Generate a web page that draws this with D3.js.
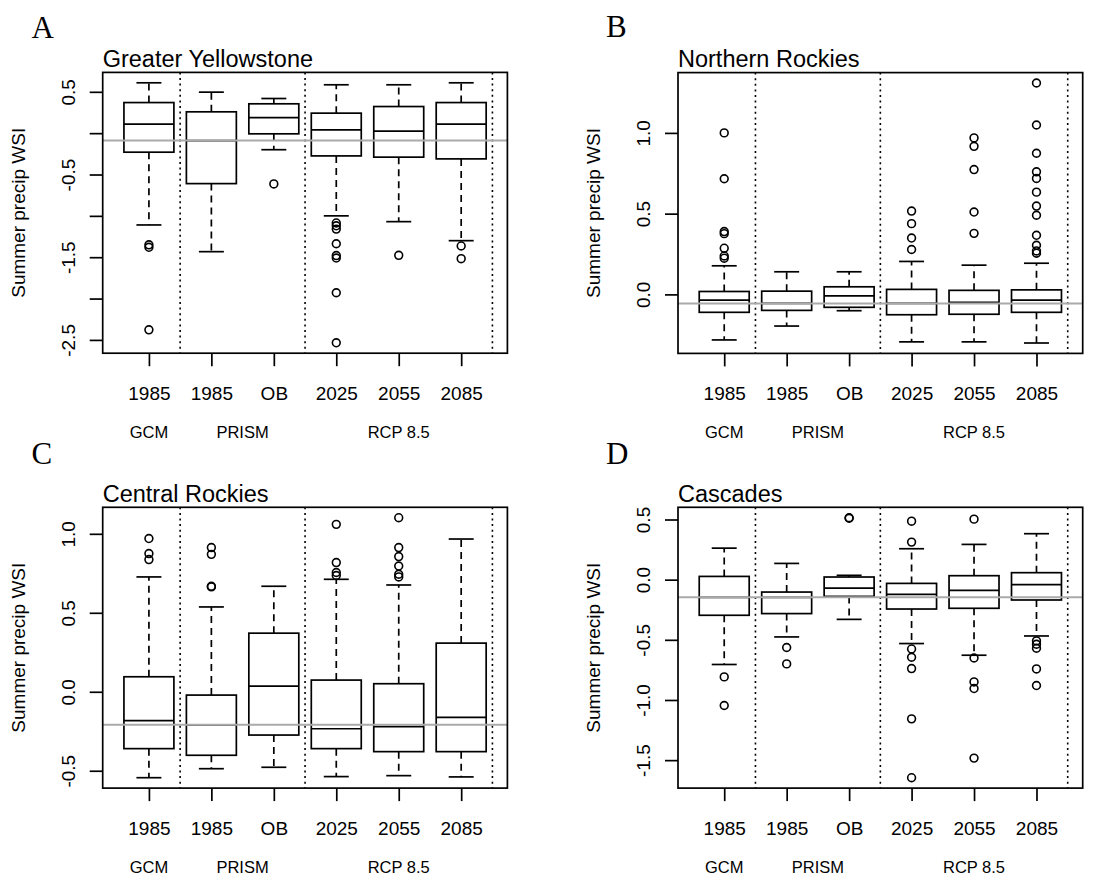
<!DOCTYPE html>
<html>
<head>
<meta charset="utf-8">
<script src="https://cdn.jsdelivr.net/npm/d3@7"></script>
<style>
  html, body { margin: 0; padding: 0; background: #fff; }
  svg { display: block; }
</style>
</head>
<body>
<div id="chart"></div>
<script>
// Box categories along the x axis, and the group captions beneath them
const xLabels = ["1985", "1985", "OB", "2025", "2055", "2085"];
const groupLabels = ["GCM", "PRISM", "RCP 8.5"];
const groupCenters = [1, 2.5, 5];
const dividers = [1.5, 3.5, 6.5];

// Box statistics per category: [lower whisker, Q1, median, Q3, upper whisker]
const yellowstoneStats = [
  [-1.11, -0.23, 0.109, 0.37, 0.609],
  [-1.433, -0.61, -0.09, 0.258, 0.496],
  [-0.2, -0.008, 0.189, 0.355, 0.419],
  [-1.0, -0.275, 0.04, 0.242, 0.585],
  [-1.07, -0.29, 0.024, 0.322, 0.585],
  [-1.3, -0.311, 0.109, 0.37, 0.609]
];
const yellowstoneOutliers = [
  [-1.35, -1.38, -2.378],
  [],
  [-0.614],
  [-1.086, -1.12, -1.16, -1.337, -1.48, -1.51, -1.93, -2.535],
  [-1.477],
  [-1.364, -1.518]
];
const yellowstoneRef = -0.09;
const yellowstoneTicks = [-2.5, -2, -1.5, -1, -0.5, 0, 0.5];
const yellowstoneTickLabels = ["-2.5", "", "-1.5", "", "-0.5", "", "0.5"];

const northernStats = [
  [-0.282, -0.111, -0.035, 0.018, 0.177],
  [-0.196, -0.099, -0.056, 0.02, 0.14],
  [-0.101, -0.08, -0.009, 0.047, 0.14],
  [-0.294, -0.126, -0.056, 0.031, 0.204],
  [-0.294, -0.123, -0.049, 0.025, 0.181],
  [-0.301, -0.111, -0.035, 0.028, 0.193]
];
const northernOutliers = [
  [1.0, 0.716, 0.389, 0.376, 0.286, 0.238, 0.224],
  [],
  [],
  [0.516, 0.438, 0.349, 0.278],
  [0.969, 0.917, 0.773, 0.51, 0.378],
  [1.309, 1.049, 0.874, 0.759, 0.718, 0.633, 0.547, 0.49, 0.366, 0.304, 0.269, 0.255]
];
const northernRef = -0.056;
const northernTicks = [0, 0.5, 1.0];
const northernTickLabels = ["0.0", "0.5", "1.0"];

const centralStats = [
  [-0.544, -0.36, -0.183, 0.095, 0.727],
  [-0.487, -0.402, -0.209, -0.021, 0.537],
  [-0.478, -0.274, 0.036, 0.371, 0.668],
  [-0.537, -0.36, -0.234, 0.074, 0.712],
  [-0.531, -0.379, -0.221, 0.051, 0.676],
  [-0.539, -0.379, -0.162, 0.308, 0.967]
];
const centralOutliers = [
  [0.97, 0.875, 0.837],
  [0.913, 0.87, 0.668, 0.664],
  [],
  [1.06, 0.818, 0.755, 0.736],
  [1.102, 0.913, 0.856, 0.796, 0.744, 0.727],
  []
];
const centralRef = -0.209;
const centralTicks = [-0.5, 0, 0.5, 1.0];
const centralTickLabels = ["-0.5", "0.0", "0.5", "1.0"];

const cascadesStats = [
  [-0.705, -0.296, -0.147, 0.027, 0.262],
  [-0.476, -0.282, -0.147, -0.103, 0.135],
  [-0.33, -0.139, -0.07, 0.022, 0.036],
  [-0.531, -0.244, -0.122, -0.031, 0.257],
  [-0.628, -0.238, -0.089, 0.033, 0.293],
  [-0.468, -0.169, -0.041, 0.058, 0.382]
];
const cascadesOutliers = [
  [-0.808, -1.046],
  [-0.564, -0.7],
  [0.515, 0.51],
  [0.486, 0.312, -0.576, -0.645, -0.739, -1.157, -1.646],
  [0.503, -0.651, -0.85, -0.905, -1.483],
  [-0.509, -0.537, -0.57, -0.742, -0.88]
];
const cascadesRef = -0.147;
const cascadesTicks = [-1.5, -1, -0.5, 0, 0.5];
const cascadesTickLabels = ["-1.5", "-1.0", "-0.5", "0.0", "0.5"];

const panelLetters = ["A", "B", "C", "D"];
const panelTitles = ["Greater Yellowstone", "Northern Rockies", "Central Rockies", "Cascades"];
const yTitle = "Summer precip WSI";

// ---- layout ----
const W = 1094, H = 875;
const sans = "'Liberation Sans', Arial, Helvetica, sans-serif";
const serif = "'Liberation Serif', 'Times New Roman', serif";
const plotW = 404.7, plotH = 280.8;
const lineW = 1.7;

const panels = [
  { letter: panelLetters[0], title: panelTitles[0], stats: yellowstoneStats, outliers: yellowstoneOutliers,
    ref: yellowstoneRef, ticks: yellowstoneTicks, tickLabels: yellowstoneTickLabels,
    left: 102.7, top: 72.4, letterX: 31.5, letterY: 37.5 },
  { letter: panelLetters[1], title: panelTitles[1], stats: northernStats, outliers: northernOutliers,
    ref: northernRef, ticks: northernTicks, tickLabels: northernTickLabels,
    left: 678, top: 72.6, letterX: 606, letterY: 37 },
  { letter: panelLetters[2], title: panelTitles[2], stats: centralStats, outliers: centralOutliers,
    ref: centralRef, ticks: centralTicks, tickLabels: centralTickLabels,
    left: 102.7, top: 507.3, letterX: 31.5, letterY: 463.5 },
  { letter: panelLetters[3], title: panelTitles[3], stats: cascadesStats, outliers: cascadesOutliers,
    ref: cascadesRef, ticks: cascadesTicks, tickLabels: cascadesTickLabels,
    left: 678, top: 507.3, letterX: 606, letterY: 463.5 }
];

const svg = d3.select("#chart").append("svg")
  .attr("width", W).attr("height", H)
  .attr("viewBox", `0 0 ${W} ${H}`);
svg.append("rect").attr("width", W).attr("height", H).attr("fill", "#fff");

panels.forEach(p => {
  // Panel letter
  svg.append("text")
    .attr("x", p.letterX).attr("y", p.letterY)
    .attr("font-family", serif).attr("font-size", 31)
    .attr("fill", "#000")
    .text(p.letter);

  const g = svg.append("g").attr("transform", `translate(${p.left},${p.top})`);

  // x: category index with the usual 4% padding around 0.5..6.5
  const n = p.stats.length;
  const xPad = (n) * 0.04;
  const x = d3.scaleLinear().domain([0.5 - xPad, n + 0.5 + xPad]).range([0, plotW]);

  // y: data extent with 4% padding on both ends
  const all = [];
  p.stats.forEach(s => all.push(s[0], s[4]));
  p.outliers.forEach(o => all.push(...o));
  const [lo, hi] = d3.extent(all);
  const yPad = (hi - lo) * 0.04;
  const y = d3.scaleLinear().domain([lo - yPad, hi + yPad]).range([plotH, 0]);

  const boxHalf = (x(1.4) - x(0.6)) / 2;
  const capHalf = (x(1.2) - x(0.8)) / 2;

  // Boxes
  const boxes = g.selectAll("g.box").data(p.stats).join("g")
    .attr("class", "box")
    .attr("transform", (d, i) => `translate(${x(i + 1)},0)`);

  // whiskers (dashed)
  boxes.append("line")
    .attr("x1", 0).attr("x2", 0)
    .attr("y1", d => y(d[3])).attr("y2", d => y(d[4]))
    .attr("stroke", "#000").attr("stroke-width", lineW).attr("stroke-dasharray", "7,5");
  boxes.append("line")
    .attr("x1", 0).attr("x2", 0)
    .attr("y1", d => y(d[1])).attr("y2", d => y(d[0]))
    .attr("stroke", "#000").attr("stroke-width", lineW).attr("stroke-dasharray", "7,5");
  // caps
  boxes.append("line")
    .attr("x1", -capHalf).attr("x2", capHalf)
    .attr("y1", d => y(d[4])).attr("y2", d => y(d[4]))
    .attr("stroke", "#000").attr("stroke-width", lineW);
  boxes.append("line")
    .attr("x1", -capHalf).attr("x2", capHalf)
    .attr("y1", d => y(d[0])).attr("y2", d => y(d[0]))
    .attr("stroke", "#000").attr("stroke-width", lineW);
  // box
  boxes.append("rect")
    .attr("x", -boxHalf).attr("width", 2 * boxHalf)
    .attr("y", d => y(d[3])).attr("height", d => y(d[1]) - y(d[3]))
    .attr("fill", "#fff").attr("stroke", "#000").attr("stroke-width", lineW);
  // median
  boxes.append("line")
    .attr("x1", -boxHalf).attr("x2", boxHalf)
    .attr("y1", d => y(d[2])).attr("y2", d => y(d[2]))
    .attr("stroke", "#000").attr("stroke-width", lineW);

  // Outliers
  boxes.each(function(d, i) {
    d3.select(this).selectAll("circle").data(p.outliers[i]).join("circle")
      .attr("cx", 0).attr("cy", v => y(v)).attr("r", 3.9)
      .attr("fill", "none").attr("stroke", "#000").attr("stroke-width", 1.6);
  });

  // Group dividers (dotted)
  g.selectAll("line.divider").data(dividers).join("line")
    .attr("class", "divider")
    .attr("x1", d => x(d)).attr("x2", d => x(d))
    .attr("y1", 0).attr("y2", plotH)
    .attr("stroke", "#000").attr("stroke-width", 1.6).attr("stroke-dasharray", "2,3.6");

  // Reference line
  g.append("line")
    .attr("x1", 0).attr("x2", plotW)
    .attr("y1", y(p.ref)).attr("y2", y(p.ref))
    .attr("stroke", "#aaaaaa").attr("stroke-width", 2);

  // Frame
  g.append("rect")
    .attr("x", 0).attr("y", 0).attr("width", plotW).attr("height", plotH)
    .attr("fill", "none").attr("stroke", "#000").attr("stroke-width", lineW);

  // x axis
  const xAxis = d3.axisBottom(x)
    .tickValues(d3.range(1, n + 1))
    .tickFormat((d, i) => xLabels[i])
    .tickSize(13);
  const gx = g.append("g").attr("transform", `translate(0,${plotH})`).call(xAxis);
  gx.select(".domain").remove();
  gx.selectAll(".tick line").attr("stroke", "#000").attr("stroke-width", lineW);
  gx.selectAll(".tick text")
    .attr("y", 47).attr("dy", 0)
    .attr("font-family", sans).attr("font-size", 19).attr("fill", "#000");

  // group captions
  g.selectAll("text.group").data(groupLabels).join("text")
    .attr("class", "group")
    .attr("x", (d, i) => x(groupCenters[i])).attr("y", plotH + 85)
    .attr("text-anchor", "middle")
    .attr("font-family", sans).attr("font-size", 16.5).attr("fill", "#000")
    .text(d => d);

  // y axis
  const yAxis = d3.axisLeft(y)
    .tickValues(p.ticks)
    .tickFormat((d, i) => p.tickLabels[i])
    .tickSize(13);
  const gy = g.append("g").call(yAxis);
  gy.select(".domain").remove();
  gy.selectAll(".tick line").attr("stroke", "#000").attr("stroke-width", lineW);
  gy.selectAll(".tick text")
    .attr("x", 0).attr("dy", 0)
    .attr("transform", "translate(-28,0) rotate(-90)")
    .attr("text-anchor", "middle")
    .attr("font-family", sans).attr("font-size", 19).attr("fill", "#000");

  // y title
  g.append("text")
    .attr("transform", `translate(-78,${plotH / 2}) rotate(-90)`)
    .attr("text-anchor", "middle")
    .attr("font-family", sans).attr("font-size", 19).attr("fill", "#000")
    .text(yTitle);

  // panel title
  g.append("text")
    .attr("x", 0).attr("y", -5.5)
    .attr("font-family", sans).attr("font-size", 23.5).attr("fill", "#000")
    .text(p.title);
});
</script>
</body>
</html>
